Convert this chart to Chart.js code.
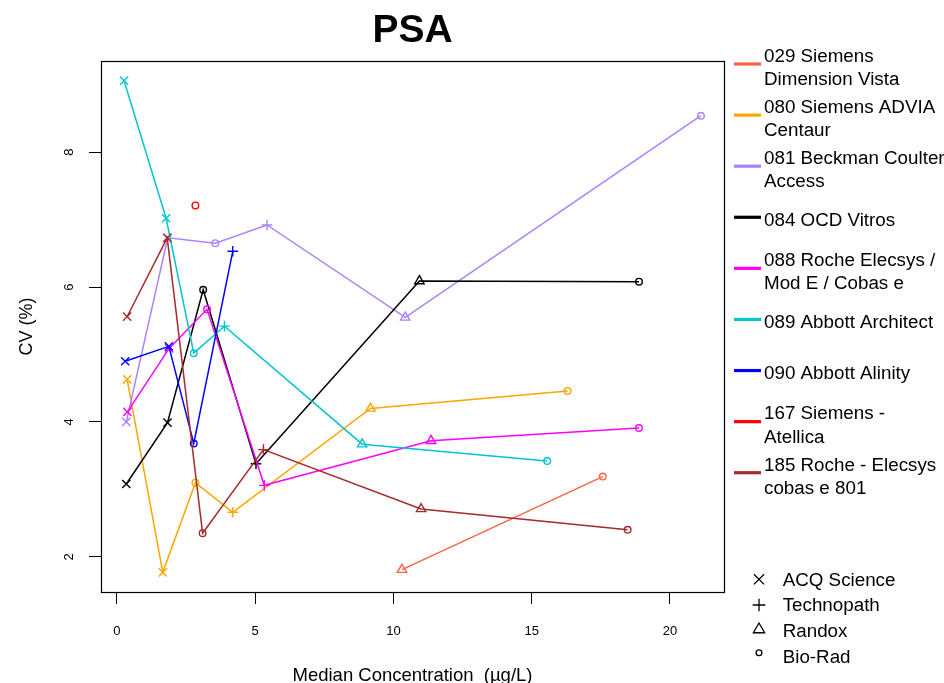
<!DOCTYPE html>
<html>
<head>
<meta charset="utf-8">
<script src="https://cdn.jsdelivr.net/npm/chart.js@4/dist/chart.umd.min.js"></script>
<style>
html,body{margin:0;padding:0;background:#fff;}
#wrap{width:944px;height:683px;position:relative;}
canvas{display:block;}
</style>
</head>
<body>
<div id="wrap"><canvas id="c" width="944" height="683"></canvas></div>
<script>
// ---------- DATA ----------
const chartTitle = "PSA";
const xAxisTitle = "Median Concentration  (\u00b5g/L)";
const yAxisTitle = "CV (%)";
const xTickValues = [0, 5, 10, 15, 20];
const yTickValues = [2, 4, 6, 8];

const seriesNames = [
  "029 Siemens\nDimension Vista",
  "080 Siemens ADVIA\nCentaur",
  "081 Beckman Coulter\nAccess",
  "084 OCD Vitros",
  "088 Roche Elecsys /\nMod E / Cobas e",
  "089 Abbott Architect",
  "090 Abbott Alinity",
  "167 Siemens -\nAtellica",
  "185 Roche - Elecsys\ncobas e 801"
];

const providerNames = ["ACQ Science", "Technopath", "Randox", "Bio-Rad"];
const providerCodes = ["ACQ", "TEC", "RAN", "BIO"];

const s029_x = [10.31, 17.57];
const s029_y = [1.81, 3.19];
const s029_src = ["RAN", "BIO"];

const s080_x = [0.37, 1.66, 2.84, 4.19, 9.17, 16.30];
const s080_y = [4.63, 1.77, 3.10, 2.66, 4.20, 4.46];
const s080_src = ["ACQ", "ACQ", "BIO", "TEC", "RAN", "BIO"];

const s081_x = [0.34, 1.84, 3.56, 5.43, 10.43, 21.12];
const s081_y = [4.00, 6.73, 6.65, 6.92, 5.55, 8.54];
const s081_src = ["ACQ", "ACQ", "BIO", "TEC", "RAN", "BIO"];

const s084_x = [0.34, 1.83, 3.12, 5.03, 10.94, 18.88];
const s084_y = [3.08, 3.99, 5.96, 3.38, 6.09, 6.08];
const s084_src = ["ACQ", "ACQ", "BIO", "TEC", "RAN", "BIO"];

const s088_x = [0.38, 1.89, 3.26, 5.33, 11.36, 18.88];
const s088_y = [4.15, 5.09, 5.67, 3.06, 3.72, 3.91];
const s088_src = ["ACQ", "ACQ", "BIO", "TEC", "RAN", "BIO"];

const s089_x = [0.26, 1.78, 2.78, 3.89, 8.87, 15.56];
const s089_y = [9.06, 7.02, 5.02, 5.42, 3.67, 3.42];
const s089_src = ["ACQ", "ACQ", "BIO", "TEC", "RAN", "BIO"];

const s090_x = [0.30, 1.88, 2.78, 4.19];
const s090_y = [4.90, 5.12, 3.68, 6.53];
const s090_src = ["ACQ", "ACQ", "BIO", "TEC"];

const s167_x = [2.84];
const s167_y = [7.21];
const s167_src = ["BIO"];

const s185_x = [0.37, 1.82, 3.10, 5.30, 11.00, 18.47];
const s185_y = [5.56, 6.73, 2.35, 3.59, 2.71, 2.40];
const s185_src = ["ACQ", "ACQ", "BIO", "TEC", "RAN", "BIO"];

// ---------- STYLE ----------
const seriesColors = ["#FF6347", "#FFA500", "#AB82FF", "#000000", "#FF00FF", "#00C5CD", "#0000FF", "#FF0000", "#A52A2A"];
const styleOf = {ACQ: "crossRot", TEC: "cross", RAN: "triangle", BIO: "circle"};
const radiusOf = {crossRot: 5.8, cross: 5.3, triangle: 5.4, circle: 3.3};

const seriesX = [s029_x, s080_x, s081_x, s084_x, s088_x, s089_x, s090_x, s167_x, s185_x];
const seriesY = [s029_y, s080_y, s081_y, s084_y, s088_y, s089_y, s090_y, s167_y, s185_y];
const seriesSrc = [s029_src, s080_src, s081_src, s084_src, s088_src, s089_src, s090_src, s167_src, s185_src];

const FONT = "'Liberation Sans', Arial, Helvetica, sans-serif";
Chart.defaults.font.family = FONT;
Chart.defaults.color = "#000";

const datasets = seriesNames.map((name, i) => {
  const styles = seriesSrc[i].map(s => styleOf[s]);
  return {
    label: name.replace("\n", " "),
    data: seriesX[i].map((x, k) => ({x: x, y: seriesY[i][k]})),
    showLine: true,
    borderColor: seriesColors[i],
    backgroundColor: "rgba(0,0,0,0)",
    borderWidth: 1.5,
    tension: 0,
    pointStyle: styles,
    pointRadius: styles.map(s => radiusOf[s]),
    pointHoverRadius: styles.map(s => radiusOf[s]),
    pointBorderColor: seriesColors[i],
    pointBackgroundColor: "rgba(0,0,0,0)",
    pointBorderWidth: 1.4,
    order: seriesNames.length - i
  };
});

// x/y ranges as R would extend them (4%)
const allX = [].concat(...seriesX), allY = [].concat(...seriesY);
const xr = [Math.min(...allX), Math.max(...allX)], yr = [Math.min(...allY), Math.max(...allY)];
const xPad = (xr[1] - xr[0]) * 0.04, yPad = (yr[1] - yr[0]) * 0.04;

function drawMarker(ctx, style, x, y, r) {
  ctx.beginPath();
  if (style === "crossRot") {
    const d = r * 0.7071;
    ctx.moveTo(x - d, y - d); ctx.lineTo(x + d, y + d);
    ctx.moveTo(x - d, y + d); ctx.lineTo(x + d, y - d);
  } else if (style === "cross") {
    ctx.moveTo(x - r, y); ctx.lineTo(x + r, y);
    ctx.moveTo(x, y - r); ctx.lineTo(x, y + r);
  } else if (style === "triangle") {
    for (let k = 0; k < 3; k++) {
      const a = -Math.PI / 2 + k * 2 * Math.PI / 3;
      const px = x + Math.cos(a) * r, py = y + Math.sin(a) * r;
      if (k === 0) ctx.moveTo(px, py); else ctx.lineTo(px, py);
    }
    ctx.closePath();
  } else {
    ctx.arc(x, y, r, 0, Math.PI * 2);
  }
  ctx.stroke();
}

const deco = {
  id: "deco",
  beforeDraw(chart) {
    const ctx = chart.ctx;
    ctx.save();
    ctx.fillStyle = "#fff";
    ctx.fillRect(0, 0, chart.width, chart.height);
    ctx.restore();
  },
  afterDraw(chart) {
    const ctx = chart.ctx, a = chart.chartArea;
    ctx.save();
    // box
    ctx.strokeStyle = "#000";
    ctx.lineWidth = 1.2;
    ctx.strokeRect(Math.round(a.left) + 0.5, Math.round(a.top) + 0.5, Math.round(a.right - a.left), Math.round(a.bottom - a.top));
    const cx = (a.left + a.right) / 2, cy = (a.top + a.bottom) / 2;
    // title
    ctx.fillStyle = "#000";
    ctx.textAlign = "center";
    ctx.textBaseline = "alphabetic";
    ctx.font = "bold 39px " + FONT;
    ctx.fillText(chartTitle, cx, 42);
    // x axis title
    ctx.font = "18.5px " + FONT;
    ctx.fillText(xAxisTitle, cx, 681);
    // y axis title
    ctx.save();
    ctx.translate(27, cy);
    ctx.rotate(-Math.PI / 2);
    ctx.textBaseline = "middle";
    ctx.font = "18px " + FONT;
    ctx.fillText(yAxisTitle, 0, 0);
    ctx.restore();
    // series legend
    ctx.textAlign = "left";
    ctx.font = "18.8px " + FONT;
    seriesNames.forEach((name, i) => {
      const L = 64 + i * 51.09;
      ctx.strokeStyle = seriesColors[i];
      ctx.lineWidth = 3.2;
      ctx.beginPath();
      ctx.moveTo(734, L); ctx.lineTo(761, L);
      ctx.stroke();
      ctx.fillStyle = "#000";
      const lines = name.split("\n");
      if (lines.length === 1) {
        ctx.fillText(lines[0], 764, L + 8.5);
      } else {
        ctx.fillText(lines[0], 764, L - 2.2);
        ctx.fillText(lines[1], 764, L + 20.9);
      }
    });
    // provider legend
    const symY = [579.3, 605, 629.5, 652.7];
    const txtY = [586, 610.7, 637.3, 662.7];
    const symR = {crossRot: 7.2, cross: 6.3, triangle: 6.5, circle: 2.9};
    providerNames.forEach((p, k) => {
      const st = styleOf[providerCodes[k]];
      ctx.strokeStyle = "#000";
      ctx.lineWidth = 1.3;
      drawMarker(ctx, st, 759, symY[k], symR[st]);
      ctx.fillStyle = "#000";
      ctx.fillText(p, 782.7, txtY[k]);
    });
    ctx.restore();
  }
};

new Chart(document.getElementById("c"), {
  type: "scatter",
  data: {datasets: datasets},
  options: {
    responsive: false,
    animation: false,
    devicePixelRatio: 1,
    layout: {padding: {left: 0, top: 61, right: 220, bottom: 0}},
    plugins: {legend: {display: false}, tooltip: {enabled: false}, title: {display: false}},
    scales: {
      x: {
        type: "linear",
        min: xr[0] - xPad,
        max: xr[1] + xPad,
        afterBuildTicks: s => { s.ticks = xTickValues.map(v => ({value: v})); },
        afterFit: s => { s.height = 91; },
        grid: {drawOnChartArea: false, drawTicks: true, tickLength: 12, color: "#000", lineWidth: 1},
        border: {display: false},
        ticks: {font: {size: 13}, color: "#000", padding: 20, maxRotation: 0, autoSkip: false}
      },
      y: {
        type: "linear",
        min: yr[0] - yPad,
        max: yr[1] + yPad,
        afterBuildTicks: s => { s.ticks = yTickValues.map(v => ({value: v})); },
        afterFit: s => { s.width = 101; },
        grid: {drawOnChartArea: false, drawTicks: true, tickLength: 12, color: "#000", lineWidth: 1},
        border: {display: false},
        ticks: {font: {size: 13}, color: "#000", padding: 16, minRotation: 90, maxRotation: 90, crossAlign: "center", autoSkip: false}
      }
    }
  },
  plugins: [deco]
});
</script>
</body>
</html>
